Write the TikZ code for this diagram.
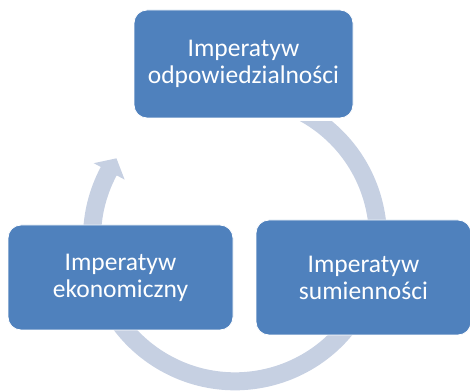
\documentclass[tikz,border=0pt]{standalone}
\usepackage{fontspec}
\setmainfont{Carlito}
\usetikzlibrary{calc}
\definecolor{boxblue}{HTML}{4F81BD}
\definecolor{ringgray}{HTML}{C6D0E2}

\begin{document}
\begin{tikzpicture}[x=1pt,y=1pt,
  imp/.style={draw=white,line width=0.8pt,rounded corners=13pt,fill=boxblue,text=white,
    align=center,font=\fontsize{25.5}{27}\selectfont,inner sep=0pt}]
  \useasboundingbox (0,0) rectangle (470,390);
  \coordinate (mid) at (235,151.7);
  % ring arrow behind the boxes
  \begin{scope}
    \clip (0,0) rectangle (470,268);
    \fill[ringgray] ($(mid)+(62:152)$) arc[start angle=62,end angle=-208,radius=152]
      -- ($(mid)+(-208:160)$) -- ($(mid)+(-214:143)$) -- ($(mid)+(-208:125)$)
      -- ($(mid)+(-208:134)$) arc[start angle=-208,end angle=62,radius=134] -- cycle;
  \end{scope}
  \node[imp,minimum width=219pt,minimum height=108pt] (odp) at (243.5,326)
    {Imperatyw\\odpowiedzialności};
  \node[imp,minimum width=225pt,minimum height=105pt] (eko) at (120.5,112.5)
    {Imperatyw\\ekonomiczny};
  \node[imp,minimum width=215pt,minimum height=115pt] (sum) at (363.5,112.5)
    {Imperatyw\\sumienności};
\end{tikzpicture}
\end{document}
